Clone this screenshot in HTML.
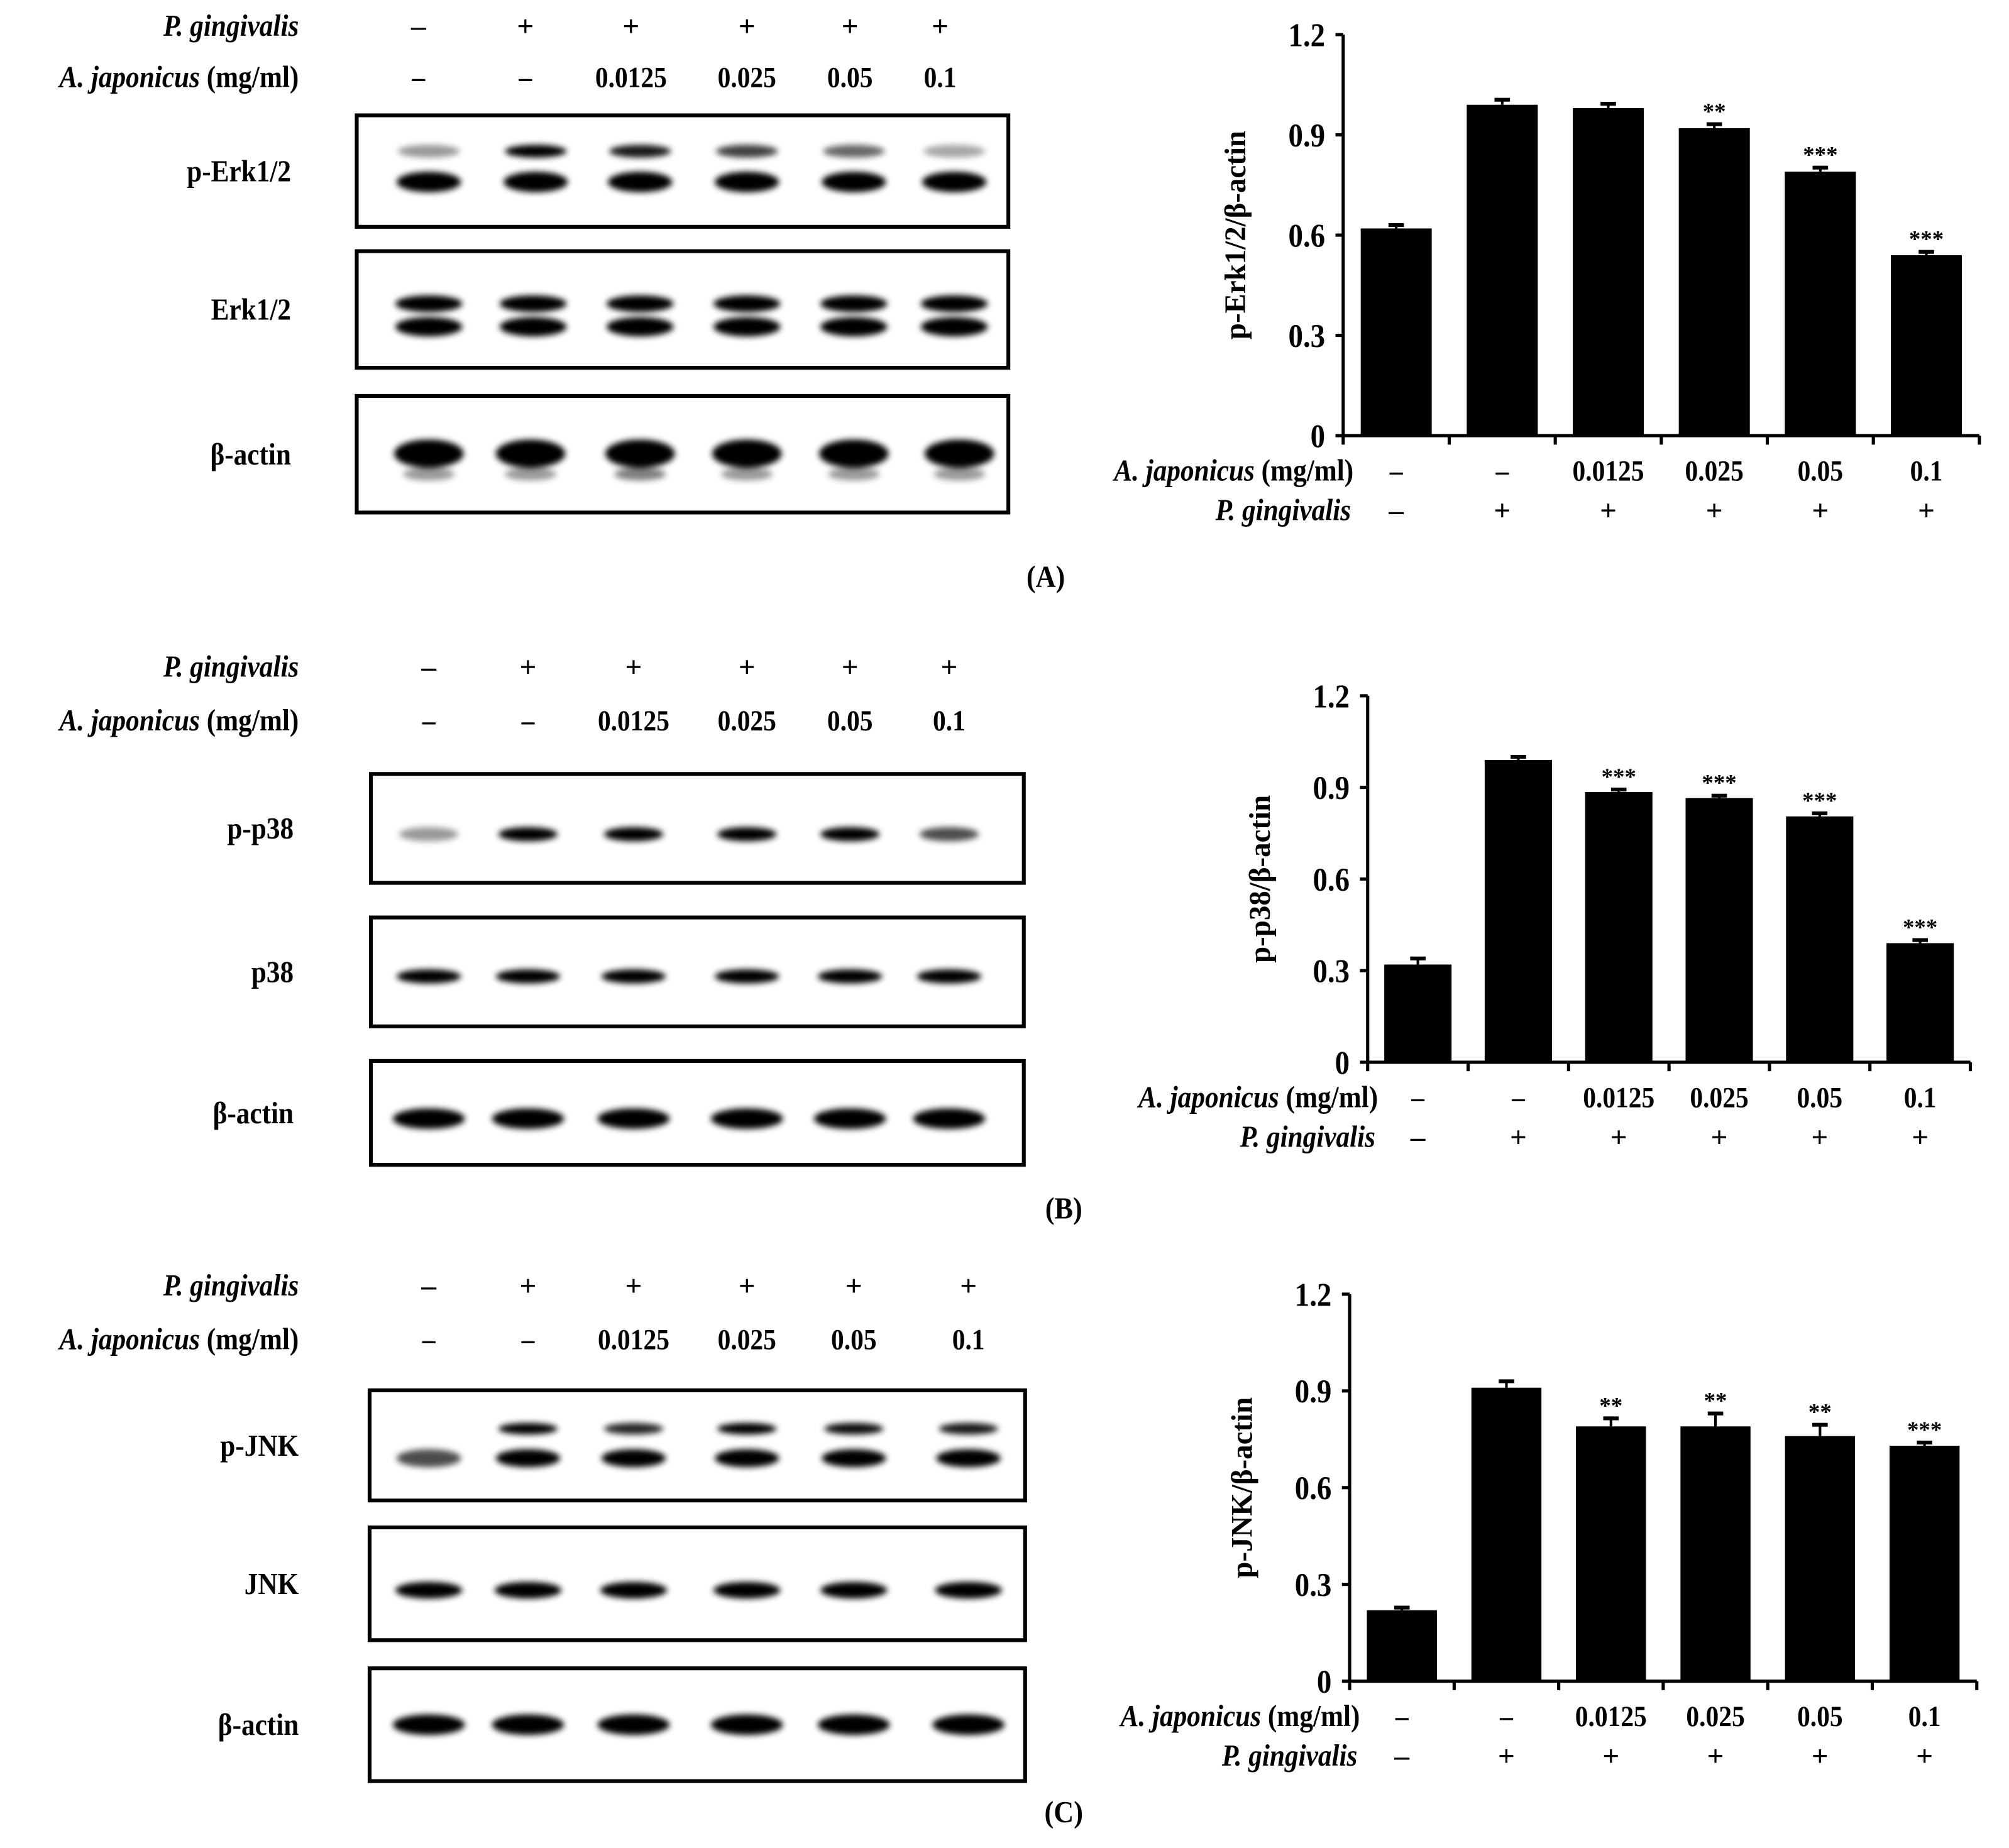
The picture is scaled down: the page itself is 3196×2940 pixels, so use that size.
<!DOCTYPE html>
<html><head><meta charset="utf-8"><style>
html,body{margin:0;padding:0;background:#fff}
svg{display:block}
text{font-family:"Liberation Serif",serif;font-weight:bold;fill:#000}
</style></head><body>
<svg id="fig" xmlns="http://www.w3.org/2000/svg" width="3196" height="2940" viewBox="0 0 1560 1435" preserveAspectRatio="none">
<defs><filter id="blur" x="-30%" y="-100%" width="160%" height="300%"><feGaussianBlur stdDeviation="2.4"/></filter></defs>
<g id="root" transform="translate(0,0) scale(1,0.995)"></g>
</svg>
<script>
const NS='http://www.w3.org/2000/svg';
const svg=document.getElementById('root');
function el(tag,attrs,parent){const e=document.createElementNS(NS,tag);for(const k in attrs)e.setAttribute(k,attrs[k]);(parent||svg).appendChild(e);return e;}
function txt(s,x,y,size,anchor,parent,italic,sx){
  sx=sx||0.88;
  const t=el('text',{x:x/sx,y:y,'font-size':size,'text-anchor':anchor||'middle',transform:`scale(${sx},1)`},parent);
  if(italic)t.setAttribute('font-style','italic');t.textContent=s;return t;}

// ---- chart data ----
const categoriesDose=['–','–','0.0125','0.025','0.05','0.1'];
const categoriesPg=['–','+','+','+','+','+'];
const yTicks=[0,0.3,0.6,0.9,1.2];
const yTickLabels=['0','0.3','0.6','0.9','1.2'];
const valuesErk=[0.62,0.99,0.98,0.92,0.79,0.54];
const errorsErk=[0.01,0.015,0.013,0.012,0.012,0.01];
const starsErk=['','','','**','***','***'];
const valuesP38=[0.32,0.99,0.885,0.865,0.805,0.39];
const errorsP38=[0.02,0.01,0.008,0.008,0.01,0.01];
const starsP38=['','','***','***','***','***'];
const valuesJnk=[0.22,0.91,0.79,0.79,0.76,0.73];
const errorsJnk=[0.008,0.02,0.025,0.04,0.035,0.01];
const starsJnk=['','','**','**','**','***'];

function drawChart(name,cfg,values,errors,stars,ylabel){
  const g=el('g',{});
  
  
  const n=values.length, cw=(cfg.x1-cfg.x0)/n, bw=cw*0.67;
  const ys=v=>cfg.y0-(v/1.2)*(cfg.y0-cfg.yTop);
  const xc=i=>cfg.x0+cw*(i+0.5);
  values.forEach((v,i)=>{
    const b=el('rect',{x:xc(i)-bw/2,y:ys(v),width:bw,height:cfg.y0-ys(v),fill:'#000'},g);
    
    
    const top=ys(v+errors[i]);
    el('line',{x1:xc(i),x2:xc(i),y1:ys(v),y2:top,stroke:'#000','stroke-width':2},g);
    const cap=el('line',{x1:xc(i)-6,x2:xc(i)+6,y1:top,y2:top,stroke:'#000','stroke-width':3},g);
    
    
    if(stars[i]){const s=txt(stars[i],xc(i),top-4,18,'middle',g,false,1);s.setAttribute('font-weight','normal');
      
      }
  });
  const ax=el('path',{d:`M${cfg.x0} ${cfg.yTop} V${cfg.y0} H${cfg.x1}`,stroke:'#000','stroke-width':2.5,fill:'none'},g);
  
  
  yTicks.forEach((t,i)=>{
    el('line',{x1:cfg.x0-6,x2:cfg.x0,y1:ys(t),y2:ys(t),stroke:'#000','stroke-width':2.5},g);
    const l=txt(yTickLabels[i],cfg.x0-14,ys(t)+9,26,'end',g);
    
    
  });
  for(let i=0;i<=n;i++)el('line',{x1:cfg.x0+cw*i,x2:cfg.x0+cw*i,y1:cfg.y0,y2:cfg.y0+7,stroke:'#000','stroke-width':2.5},g);
  const yl=el('text',{x:0,y:0,'font-size':23,'text-anchor':'middle'},g);
  yl.textContent=ylabel;
  yl.setAttribute('transform',`translate(${cfg.x0-76},${(cfg.y0+cfg.yTop)/2}) rotate(-90)`);
  
  
  const r1=cfg.y0+35, r2=cfg.y0+66;
  const l1=txt('',cfg.x0+8,r1,24,'end',g);
  const i1=document.createElementNS(NS,'tspan');i1.setAttribute('font-style','italic');i1.textContent='A. japonicus';l1.appendChild(i1);
  l1.appendChild(document.createTextNode(' (mg/ml)'));
  
  
  const l2=txt('P. gingivalis',cfg.x0+6,r2,24,'end',g,true);
  
  
  categoriesDose.forEach((c,i)=>{const t=txt(c,xc(i),r1,23,'middle',g);
    
    });
  categoriesPg.forEach((c,i)=>{const t=txt(c,xc(i),r2,23,'middle',g,false,1);t.setAttribute('font-weight','normal');
    
    });
}
drawChart('chart-a',{x0:1043,x1:1537,yTop:27,y0:340},valuesErk,errorsErk,starsErk,'p-Erk1/2/β-actin');
drawChart('chart-b',{x0:1062,x1:1530,yTop:543,y0:829},valuesP38,errorsP38,starsP38,'p-p38/β-actin');
drawChart('chart-c',{x0:1048,x1:1535,yTop:1010,y0:1312},valuesJnk,errorsJnk,starsJnk,'p-JNK/β-actin');

// ---- western blots ----
function drawBlotPanel(name,hdr,lanes,boxes){
  const g=el('g',{});
  
  
  const h1=txt('P. gingivalis',hdr.lx,hdr.y1,24,'end',g,true);
  
  
  const h2=txt('',hdr.lx,hdr.y2,24,'end',g);
  const it=document.createElementNS(NS,'tspan');it.setAttribute('font-style','italic');it.textContent='A. japonicus';h2.appendChild(it);
  h2.appendChild(document.createTextNode(' (mg/ml)'));
  
  
  const pg=['–','+','+','+','+','+'], ds=['–','–','0.0125','0.025','0.05','0.1'];
  lanes.forEach((x,i)=>{
    const a=txt(pg[i],x,hdr.y1,23,'middle',g,false,1);a.setAttribute('font-weight','normal');
    
    
    const b=txt(ds[i],x,hdr.y2,23,'middle',g);
    
    
  });
  boxes.forEach(bx=>{
    const bg=el('g',{},g);
    
    
    el('rect',{x:bx.x0,y:bx.y0,width:bx.x1-bx.x0,height:bx.y1-bx.y0,fill:'#fff'},bg);
    const bands=el('g',{filter:'url(#blur)'},bg);
    bx.bands.forEach(bd=>{
      lanes.forEach((x,i)=>{
        const op=bd.op[i];
        if(op>0) el('ellipse',{cx:bx.laneX?bx.laneX[i]:x,cy:bd.y,rx:bd.rx,ry:bd.ry,fill:'#000','fill-opacity':op},bands);
      });
    });
    el('rect',{x:bx.x0,y:bx.y0,width:bx.x1-bx.x0,height:bx.y1-bx.y0,fill:'none',stroke:'#000','stroke-width':3},bg);
    const lt=txt(bx.label,bx.lx,(bx.y0+bx.y1)/2+8,24,'end',g);
    
    
  });
}
drawBlotPanel('blot-panel-a',{lx:232,y1:28,y2:68},[325,408,490,580,660,730],[
 {label:'p-Erk1/2',lx:226,x0:277,x1:783,y0:90,y1:177,laneX:[333,416,497,580,663,741],bands:[
   {y:118,rx:24,ry:5,op:[0.4,1,0.9,0.75,0.6,0.35]},
   {y:142,rx:25,ry:8,op:[1,1,1,1,1,1]}]},
 {label:'Erk1/2',lx:226,x0:277,x1:783,y0:196,y1:287,laneX:[333,414,497,580,663,741],bands:[
   {y:237,rx:26,ry:6.5,op:[1,1,1,1,1,1]},
   {y:255,rx:26,ry:7.5,op:[1,1,1,1,1,1]}]},
 {label:'β-actin',lx:226,x0:277,x1:783,y0:309,y1:400,laneX:[333,412,497,580,663,745],bands:[
   {y:354,rx:27,ry:11,op:[1,1,1,1,1,1]},
   {y:370,rx:20,ry:5,op:[0.4,0.4,0.5,0.4,0.4,0.4]}]}
]);
drawBlotPanel('blot-panel-b',{lx:232,y1:528,y2:570},[333,410,492,580,660,737],[
 {label:'p-p38',lx:228,x0:288,x1:795,y0:604,y1:689,bands:[
   {y:651,rx:23,ry:5.5,op:[0.4,1,1,1,1,0.7]}]},
 {label:'p38',lx:228,x0:288,x1:795,y0:716,y1:801,bands:[
   {y:762,rx:25,ry:5.5,op:[1,1,1,1,1,1]}]},
 {label:'β-actin',lx:228,x0:288,x1:795,y0:828,y1:909,bands:[
   {y:873,rx:28,ry:8,op:[1,1,1,1,1,1]}]}
]);
drawBlotPanel('blot-panel-c',{lx:232,y1:1011,y2:1053},[333,410,492,580,663,752],[
 {label:'p-JNK',lx:232,x0:287,x1:796,y0:1085,y1:1171,bands:[
   {y:1115,rx:23,ry:4.5,op:[0,1,0.85,1,0.95,0.9]},
   {y:1138,rx:25,ry:7,op:[0.7,1,1,1,1,1]}]},
 {label:'JNK',lx:232,x0:287,x1:796,y0:1192,y1:1280,bands:[
   {y:1241,rx:26,ry:6.5,op:[1,1,1,1,1,1]}]},
 {label:'β-actin',lx:232,x0:287,x1:796,y0:1302,y1:1390,bands:[
   {y:1346,rx:28,ry:8,op:[1,1,1,1,1,1]}]}
]);

[['(A)',812,458],['(B)',826,951],['(C)',826,1422]].forEach(p=>{
  const t=txt(p[0],p[1],p[2],24,'middle',undefined,false,0.9);
  
  
});
</script>
</body></html>
